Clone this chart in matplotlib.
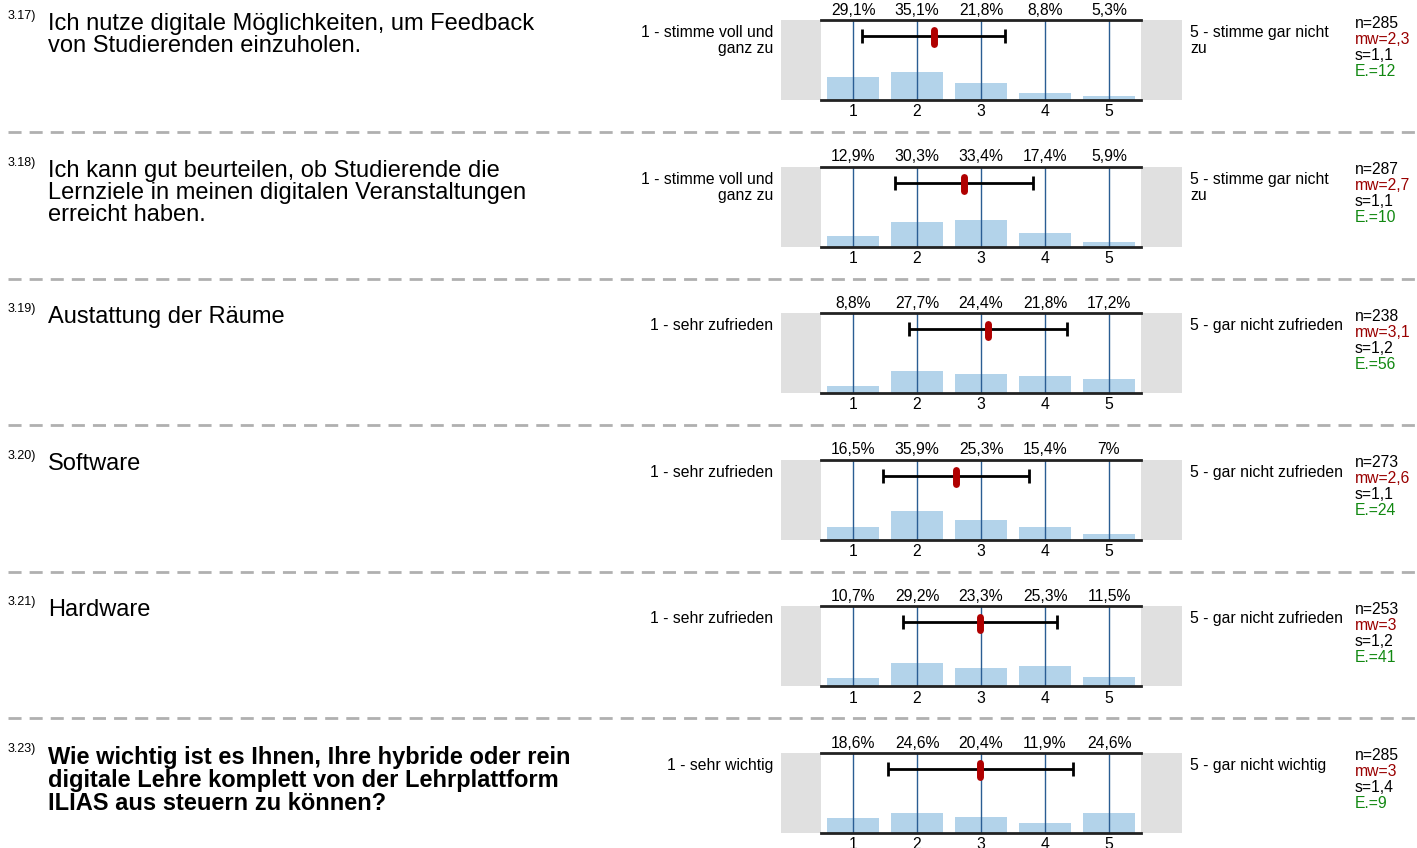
import matplotlib.pyplot as plt
from matplotlib import font_manager
from matplotlib.patches import Rectangle

# pick the regular-width Liberation Sans files (avoid the Narrow variant)
reg_file, bold_file = None, None
for f in font_manager.fontManager.ttflist:
    if f.name == 'Liberation Sans' and 'Narrow' not in f.fname and f.style == 'normal':
        if f.weight in (400, 'normal', 'regular'):
            reg_file = f.fname
        elif f.weight in (700, 'bold'):
            bold_file = f.fname
plt.rcParams['font.family'] = ['Liberation Sans', 'DejaVu Sans']


def font(size, bold=False):
    f = bold_file if bold else reg_file
    if f:
        return font_manager.FontProperties(fname=f, size=size)
    return font_manager.FontProperties(family='Liberation Sans', size=size,
                                       weight='bold' if bold else 'normal')


# survey items
numbers = ['3.17)', '3.18)', '3.19)', '3.20)', '3.21)', '3.23)']
questions = [
    'Ich nutze digitale Möglichkeiten, um Feedback\nvon Studierenden einzuholen.',
    'Ich kann gut beurteilen, ob Studierende die\nLernziele in meinen digitalen Veranstaltungen\nerreicht haben.',
    'Austattung der Räume',
    'Software',
    'Hardware',
    'Wie wichtig ist es Ihnen, Ihre hybride oder rein\ndigitale Lehre komplett von der Lehrplattform\nILIAS aus steuern zu können?',
]
left_labels = ['1 - stimme voll und\nganz zu', '1 - stimme voll und\nganz zu',
               '1 - sehr zufrieden', '1 - sehr zufrieden', '1 - sehr zufrieden',
               '1 - sehr wichtig']
right_labels = ['5 - stimme gar nicht\nzu', '5 - stimme gar nicht\nzu',
                '5 - gar nicht zufrieden', '5 - gar nicht zufrieden',
                '5 - gar nicht zufrieden', '5 - gar nicht wichtig']
percents = [
    [29.1, 35.1, 21.8, 8.8, 5.3],
    [12.9, 30.3, 33.4, 17.4, 5.9],
    [8.8, 27.7, 24.4, 21.8, 17.2],
    [16.5, 35.9, 25.3, 15.4, 7.0],
    [10.7, 29.2, 23.3, 25.3, 11.5],
    [18.6, 24.6, 20.4, 11.9, 24.6],
]
means = [2.26, 2.73, 3.11, 2.61, 2.98, 2.99]
sds = [1.12, 1.08, 1.24, 1.14, 1.20, 1.45]
n_vals = [285, 287, 238, 273, 253, 285]
mw_txt = ['2,3', '2,7', '3,1', '2,6', '3', '3']
s_txt = ['1,1', '1,1', '1,2', '1,1', '1,2', '1,4']
e_vals = [12, 10, 56, 24, 41, 9]
scale = [1, 2, 3, 4, 5]

W, H = 1417, 848
fig = plt.figure(figsize=(W / 100, H / 100), dpi=100)


def fx(px):
    return px / W


def fy(py):
    return 1 - py / H


def txt(x, y, s, size=11.3, bold=False, **kw):
    fig.text(fx(x), fy(y), s, fontproperties=font(size, bold), **kw)


BAR = '#b3d3ea'
VLINE = '#2a5d93'
GRAY = '#e0e0e0'
SMALL = 11.3

for i in range(6):
    top = 20 + i * 146.6
    ax = fig.add_axes([fx(821), fy(top + 80), fx(320), 80 / H])
    ax.set_xlim(0.5, 5.5)
    ax.set_ylim(0, 100)
    # gray side boxes
    ax.add_patch(Rectangle((-40 / 320, 0), 40 / 320, 1, transform=ax.transAxes,
                           color=GRAY, clip_on=False, lw=0))
    ax.add_patch(Rectangle((1, 0), 41 / 320, 1, transform=ax.transAxes,
                           color=GRAY, clip_on=False, lw=0))
    ax.bar(scale, percents[i], width=0.8, color=BAR, zorder=1)
    for x in scale:
        ax.axvline(x, color=VLINE, lw=1, zorder=2)
    ax.errorbar(means[i], 80, xerr=sds[i], color='black', lw=2, capsize=5,
                capthick=2, zorder=3)
    ax.plot([means[i], means[i]], [70, 87], color='#b00000', lw=5,
            solid_capstyle='round', zorder=4)
    for sp in ['left', 'right']:
        ax.spines[sp].set_visible(False)
    for sp in ['top', 'bottom']:
        ax.spines[sp].set_linewidth(2)
        ax.spines[sp].set_color('#222222')
    ax.set_yticks([])
    ax.set_xticks(scale)
    ax.set_xticklabels([str(x) for x in scale], fontproperties=font(SMALL))
    ax.tick_params(axis='x', length=0, pad=3)
    for x, p in zip(scale, percents[i]):
        lab = f'{p:g}'.replace('.', ',') + '%'
        ax.text(x, 103, lab, ha='center', va='bottom', fontproperties=font(SMALL))

    # texts around
    txt(8, top - 4, numbers[i], size=9, va='center', ha='left')
    txt(48, top - 7, questions[i], size=17, bold=(i == 5), va='top',
        ha='left', linespacing=1.0)
    txt(773, top + 5, left_labels[i], va='top', ha='right', linespacing=1.08)
    txt(1190, top + 5, right_labels[i], va='top', ha='left', linespacing=1.08)
    stats = [(f'n={n_vals[i]}', 'black'), (f'mw={mw_txt[i]}', '#990000'),
             (f's={s_txt[i]}', 'black'), (f'E.={e_vals[i]}', '#118811')]
    for k, (s, c) in enumerate(stats):
        txt(1355, top + 3 + 16 * k, s, color=c, va='center', ha='left')
    if i < 5:
        ysep = fy(top + 112)
        fig.add_artist(plt.Line2D([fx(8), 1], [ysep, ysep], color='#b0b0b0',
                                  lw=2, dashes=(4.7, 2.9)))

fig.savefig('out.png', dpi=100)
